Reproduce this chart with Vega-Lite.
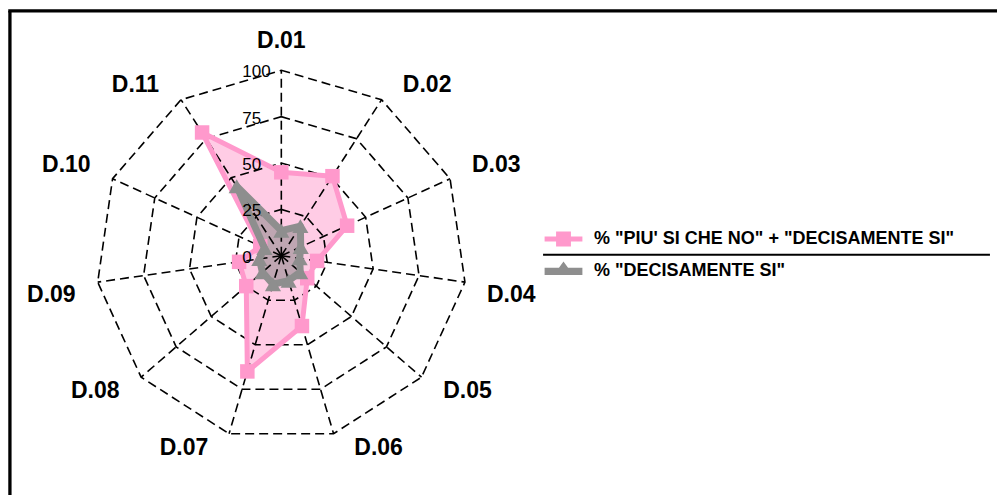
{
  "$schema": "https://vega.github.io/schema/vega-lite/v6.json",
  "width": 997,
  "height": 495,
  "autosize": "none",
  "padding": 0,
  "background": "white",
  "datasets": {
    "scores": [
      {"axis": "D.01", "series": "% \"PIU' SI CHE NO\" + \"DECISAMENTE SI\"", "value": 45},
      {"axis": "D.02", "series": "% \"PIU' SI CHE NO\" + \"DECISAMENTE SI\"", "value": 51},
      {"axis": "D.03", "series": "% \"PIU' SI CHE NO\" + \"DECISAMENTE SI\"", "value": 39},
      {"axis": "D.04", "series": "% \"PIU' SI CHE NO\" + \"DECISAMENTE SI\"", "value": 19.5},
      {"axis": "D.05", "series": "% \"PIU' SI CHE NO\" + \"DECISAMENTE SI\"", "value": 18.5},
      {"axis": "D.06", "series": "% \"PIU' SI CHE NO\" + \"DECISAMENTE SI\"", "value": 39.5},
      {"axis": "D.07", "series": "% \"PIU' SI CHE NO\" + \"DECISAMENTE SI\"", "value": 65},
      {"axis": "D.08", "series": "% \"PIU' SI CHE NO\" + \"DECISAMENTE SI\"", "value": 25},
      {"axis": "D.09", "series": "% \"PIU' SI CHE NO\" + \"DECISAMENTE SI\"", "value": 23},
      {"axis": "D.10", "series": "% \"PIU' SI CHE NO\" + \"DECISAMENTE SI\"", "value": 12.5},
      {"axis": "D.11", "series": "% \"PIU' SI CHE NO\" + \"DECISAMENTE SI\"", "value": 79},
      {"axis": "D.01", "series": "% \"DECISAMENTE SI\"", "value": 13.5},
      {"axis": "D.02", "series": "% \"DECISAMENTE SI\"", "value": 19},
      {"axis": "D.03", "series": "% \"DECISAMENTE SI\"", "value": 11.5},
      {"axis": "D.04", "series": "% \"DECISAMENTE SI\"", "value": 10},
      {"axis": "D.05", "series": "% \"DECISAMENTE SI\"", "value": 13.5},
      {"axis": "D.06", "series": "% \"DECISAMENTE SI\"", "value": 14},
      {"axis": "D.07", "series": "% \"DECISAMENTE SI\"", "value": 16},
      {"axis": "D.08", "series": "% \"DECISAMENTE SI\"", "value": 13.5},
      {"axis": "D.09", "series": "% \"DECISAMENTE SI\"", "value": 12},
      {"axis": "D.10", "series": "% \"DECISAMENTE SI\"", "value": 10},
      {"axis": "D.11", "series": "% \"DECISAMENTE SI\"", "value": 44.5}
    ],
    "axes": [
      {"axis": "D.01"}, {"axis": "D.02"}, {"axis": "D.03"}, {"axis": "D.04"},
      {"axis": "D.05"}, {"axis": "D.06"}, {"axis": "D.07"}, {"axis": "D.08"},
      {"axis": "D.09"}, {"axis": "D.10"}, {"axis": "D.11"}
    ],
    "grid": [
      {"level": 25, "axis": ["D.01", "D.02", "D.03", "D.04", "D.05", "D.06", "D.07", "D.08", "D.09", "D.10", "D.11"]},
      {"level": 50, "axis": ["D.01", "D.02", "D.03", "D.04", "D.05", "D.06", "D.07", "D.08", "D.09", "D.10", "D.11"]},
      {"level": 75, "axis": ["D.01", "D.02", "D.03", "D.04", "D.05", "D.06", "D.07", "D.08", "D.09", "D.10", "D.11"]},
      {"level": 100, "axis": ["D.01", "D.02", "D.03", "D.04", "D.05", "D.06", "D.07", "D.08", "D.09", "D.10", "D.11"]}
    ],
    "levels": [{"level": 0}, {"level": 25}, {"level": 50}, {"level": 75}, {"level": 100}],
    "frame": [
      {"part": "left", "px": -146.3, "py": 132.0, "px2": -146.3, "py2": -129.0},
      {"part": "top", "px": -147.2, "py": 132.0, "px2": 385.8, "py2": 132.0}
    ],
    "separator": [
      {"part": "legend rule", "px": 141.1, "py": 0.6, "px2": 382.0, "py2": 0.6}
    ]
  },
  "encoding": {
    "x": {
      "field": "px",
      "type": "quantitative",
      "scale": {"domain": [-151.65, 385.8], "nice": false, "zero": false},
      "axis": null
    },
    "y": {
      "field": "py",
      "type": "quantitative",
      "scale": {"domain": [-129.0, 137.9], "nice": false, "zero": false},
      "axis": null
    }
  },
  "layer": [
    {
      "data": {"name": "scores"},
      "transform": [
        {"filter": "indexof(datum.series, 'PIU') >= 0"},
        {"calculate": "toNumber(substring(datum.axis, 2))", "as": "k"},
        {"calculate": "(datum.k - 1) * 2 * PI / 11", "as": "theta"},
        {"calculate": "datum.value * sin(datum.theta)", "as": "px"},
        {"calculate": "datum.value * cos(datum.theta)", "as": "py"}
      ],
      "mark": {"type": "line", "interpolate": "linear-closed", "strokeWidth": 0, "fill": "#ff99cc", "fillOpacity": 0.5},
      "encoding": {
        "order": {"field": "k", "type": "quantitative"}
      }
    },
    {
      "data": {"name": "scores"},
      "transform": [
        {"filter": "indexof(datum.series, 'PIU') < 0"},
        {"calculate": "toNumber(substring(datum.axis, 2))", "as": "k"},
        {"calculate": "(datum.k - 1) * 2 * PI / 11", "as": "theta"},
        {"calculate": "datum.value * sin(datum.theta)", "as": "px"},
        {"calculate": "datum.value * cos(datum.theta)", "as": "py"}
      ],
      "mark": {"type": "line", "interpolate": "linear-closed", "strokeWidth": 0, "fill": "#808080", "fillOpacity": 0.5},
      "encoding": {
        "order": {"field": "k", "type": "quantitative"}
      }
    },
    {
      "data": {"name": "grid"},
      "transform": [
        {"flatten": ["axis"]},
        {"calculate": "toNumber(substring(datum.axis, 2))", "as": "k"},
        {"calculate": "(datum.k - 1) * 2 * PI / 11", "as": "theta"},
        {"calculate": "datum.level * sin(datum.theta)", "as": "px"},
        {"calculate": "datum.level * cos(datum.theta)", "as": "py"}
      ],
      "mark": {"type": "line", "interpolate": "linear-closed", "color": "black", "strokeWidth": 1.6, "strokeDash": [9, 5]},
      "encoding": {
        "detail": {"field": "level"},
        "order": {"field": "k", "type": "quantitative"}
      }
    },
    {
      "data": {"name": "axes"},
      "transform": [
        {"calculate": "toNumber(substring(datum.axis, 2))", "as": "k"},
        {"calculate": "(datum.k - 1) * 2 * PI / 11", "as": "theta"},
        {"calculate": "100 * sin(datum.theta)", "as": "px"},
        {"calculate": "100 * cos(datum.theta)", "as": "py"}
      ],
      "mark": {"type": "rule", "color": "black", "strokeWidth": 1.6, "strokeDash": [9, 5]},
      "encoding": {
        "x": {"datum": 0, "type": "quantitative"},
        "y": {"datum": 0, "type": "quantitative"},
        "x2": {"field": "px"},
        "y2": {"field": "py"}
      }
    },
    {
      "data": {"name": "scores"},
      "transform": [
        {"filter": "indexof(datum.series, 'PIU') >= 0"},
        {"calculate": "toNumber(substring(datum.axis, 2))", "as": "k"},
        {"calculate": "(datum.k - 1) * 2 * PI / 11", "as": "theta"},
        {"calculate": "datum.value * sin(datum.theta)", "as": "px"},
        {"calculate": "datum.value * cos(datum.theta)", "as": "py"}
      ],
      "mark": {"type": "line", "interpolate": "linear-closed", "strokeJoin": "round", "stroke": "#ff99cc", "strokeWidth": 5},
      "encoding": {
        "order": {"field": "k", "type": "quantitative"}
      }
    },
    {
      "data": {"name": "scores"},
      "transform": [
        {"filter": "indexof(datum.series, 'PIU') >= 0"},
        {"calculate": "toNumber(substring(datum.axis, 2))", "as": "k"},
        {"calculate": "(datum.k - 1) * 2 * PI / 11", "as": "theta"},
        {"calculate": "datum.value * sin(datum.theta)", "as": "px"},
        {"calculate": "datum.value * cos(datum.theta)", "as": "py"}
      ],
      "mark": {"type": "point", "filled": true, "opacity": 1, "size": 210, "shape": "square"},
      "encoding": {
        "color": {"field": "series", "type": "nominal"}
      }
    },
    {
      "data": {"name": "scores"},
      "transform": [
        {"filter": "indexof(datum.series, 'PIU') < 0"},
        {"calculate": "toNumber(substring(datum.axis, 2))", "as": "k"},
        {"calculate": "(datum.k - 1) * 2 * PI / 11", "as": "theta"},
        {"calculate": "datum.value * sin(datum.theta)", "as": "px"},
        {"calculate": "datum.value * cos(datum.theta)", "as": "py"}
      ],
      "mark": {"type": "line", "interpolate": "linear-closed", "strokeJoin": "round", "stroke": "#8e8e8e", "strokeWidth": 7},
      "encoding": {
        "order": {"field": "k", "type": "quantitative"}
      }
    },
    {
      "data": {"name": "scores"},
      "transform": [
        {"filter": "indexof(datum.series, 'PIU') < 0"},
        {"calculate": "toNumber(substring(datum.axis, 2))", "as": "k"},
        {"calculate": "(datum.k - 1) * 2 * PI / 11", "as": "theta"},
        {"calculate": "datum.value * sin(datum.theta)", "as": "px"},
        {"calculate": "datum.value * cos(datum.theta)", "as": "py"}
      ],
      "mark": {"type": "point", "filled": true, "opacity": 1, "size": 260, "shape": "triangle-up"},
      "encoding": {
        "color": {"field": "series", "type": "nominal"}
      }
    },
    {
      "data": {"name": "scores"},
      "transform": [
        {"calculate": "0", "as": "px"},
        {"calculate": "0", "as": "py"}
      ],
      "mark": {"type": "point", "filled": true, "opacity": 0, "size": 1},
      "encoding": {
        "color": {
          "field": "series",
          "type": "nominal",
          "title": null,
          "scale": {
            "domain": ["% \"PIU' SI CHE NO\" + \"DECISAMENTE SI\"", "% \"DECISAMENTE SI\""],
            "range": ["#ff99cc", "#8e8e8e"]
          },
          "legend": {
            "orient": "none",
            "legendX": 550,
            "legendY": 225.5,
            "title": null,
            "padding": 0,
            "symbolSize": 729,
            "symbolStrokeWidth": 0,
            "symbolOpacity": 1,
            "labelFont": "Liberation Sans",
            "labelFontSize": 18,
            "labelFontWeight": "bold",
            "labelColor": "black",
            "labelOffset": 17,
            "labelLimit": 600,
            "rowPadding": 9
          }
        },
        "shape": {
          "field": "series",
          "type": "nominal",
          "title": null,
          "scale": {
            "domain": ["% \"PIU' SI CHE NO\" + \"DECISAMENTE SI\"", "% \"DECISAMENTE SI\""],
            "range": [
              "M-1.4,-0.19H1.4V0.19H-1.4Z M-0.55,-0.55H0.55V0.55H-0.55Z",
              "M-1.4,-0.24H1.4V0.3H-1.4Z M-0.55,0.05L0,-0.7L0.55,0.05Z"
            ]
          },
          "legend": {
            "orient": "none",
            "legendX": 550,
            "legendY": 225.5,
            "title": null,
            "padding": 0,
            "symbolSize": 729,
            "symbolStrokeWidth": 0,
            "symbolOpacity": 1,
            "labelFont": "Liberation Sans",
            "labelFontSize": 18,
            "labelFontWeight": "bold",
            "labelColor": "black",
            "labelOffset": 17,
            "labelLimit": 600,
            "rowPadding": 9
          }
        }
      }
    },
    {
      "data": {"name": "levels"},
      "transform": [
        {"calculate": "0", "as": "px"},
        {"calculate": "datum.level", "as": "py"}
      ],
      "mark": {"type": "text", "align": "left", "baseline": "middle", "dx": -39, "dy": 2, "font": "Liberation Sans", "fontSize": 17, "color": "black"},
      "encoding": {
        "text": {"field": "level", "type": "quantitative"}
      }
    },
    {
      "data": {"name": "axes"},
      "transform": [
        {"calculate": "toNumber(substring(datum.axis, 2))", "as": "k"},
        {"calculate": "(datum.k - 1) * 2 * PI / 11", "as": "theta"},
        {"calculate": "clamp(8 * sin(datum.theta), -1, 1)", "as": "sx"},
        {"calculate": "clamp(8 * cos(datum.theta), -1, 1)", "as": "sy"},
        {"calculate": "101 * sin(datum.theta) + 24 * datum.sx", "as": "px"},
        {"calculate": "101 * cos(datum.theta) + 7 * datum.sy + 8 * (1 - abs(datum.sx))", "as": "py"}
      ],
      "mark": {"type": "text", "align": "center", "baseline": "middle", "font": "Liberation Sans", "fontSize": 23, "fontWeight": "bold", "color": "black"},
      "encoding": {
        "text": {"field": "axis", "type": "nominal"}
      }
    },
    {
      "data": {"name": "frame"},
      "mark": {"type": "rule", "color": "black", "strokeWidth": 3.3},
      "encoding": {
        "x2": {"field": "px2"},
        "y2": {"field": "py2"}
      }
    },
    {
      "data": {"name": "separator"},
      "mark": {"type": "rule", "color": "black", "strokeWidth": 2},
      "encoding": {
        "x2": {"field": "px2"},
        "y2": {"field": "py2"}
      }
    }
  ],
  "config": {
    "view": {"stroke": null},
    "font": "Liberation Sans"
  }
}
